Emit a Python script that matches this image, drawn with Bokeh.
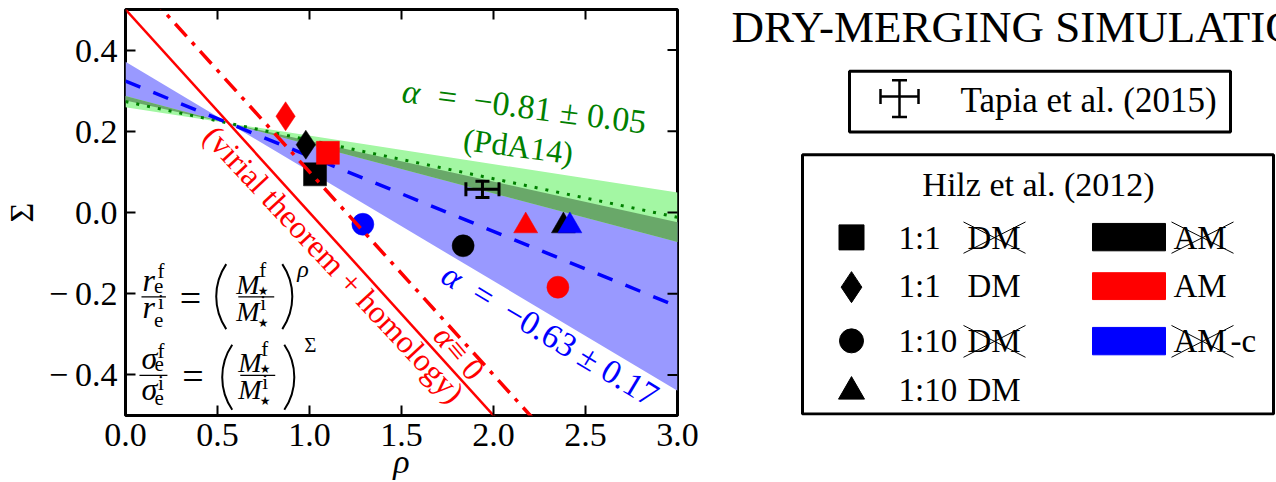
from math import pi, cos, sin, radians, asin

from bokeh.core.properties import value
from bokeh.embed import file_html
from bokeh.layouts import row
from bokeh.models import ColumnDataSource, FixedTicker
from bokeh.plotting import figure
from bokeh.resources import INLINE

SERIF = "Liberation Serif"
MID = 0.34   # distance, in em, from the alphabetic baseline up to the centre of the text box

# Hilz et al. (2012) dry-merger runs
RUN_RATIO = ["1:1", "1:1", "1:1", "1:1", "1:10", "1:10", "1:10", "1:10", "1:10", "1:10"]
RUN_DM = [False, False, True, True, False, False, False, True, True, True]
RUN_AM = ["none", "AM", "none", "AM", "none", "AM", "AM-c", "none", "AM", "AM-c"]
RUN_RHO = [1.03, 1.10, 0.98, 0.87, 1.835, 2.35, 1.29, 2.38, 2.175, 2.415]
RUN_SIGMA = [0.094, 0.147, 0.167, 0.237, -0.082, -0.184, -0.029, -0.033, -0.033, -0.033]

# Tapia et al. (2015)
TAPIA_RHO = 1.94
TAPIA_RHO_ERR = 0.09
TAPIA_SIGMA = 0.057
TAPIA_SIGMA_ERR = 0.02

# alpha fits (all pass through the common pivot)
ALPHA_PDA14 = -0.81
ALPHA_PDA14_ERR = 0.05
ALPHA_FIT = -0.63
ALPHA_FIT_ERR = 0.17
RHO_PIVOT = 0.56

# virial-theorem lines: Sigma = intercept + slope * rho
VIRIAL_SLOPE = -0.5
VIRIAL_INTERCEPT = 0.5
ALPHA_ZERO_INTERCEPT = 0.6

X_TICKS = [0.0, 0.5, 1.0, 1.5, 2.0, 2.5, 3.0]
X_TICK_LABELS = ["0.0", "0.5", "1.0", "1.5", "2.0", "2.5", "3.0"]
Y_TICKS = [-0.4, -0.2, 0.0, 0.2, 0.4]
Y_TICK_LABELS = ["\u2212\u20090.4", "\u2212\u20090.2", "0.0", "0.2", "0.4"]

MARKER = {("1:1", False): "square", ("1:1", True): "diamond",
          ("1:10", False): "circle", ("1:10", True): "triangle"}
MARKER_SIZE = {"square": 23, "diamond": 29, "circle": 22, "triangle": 24}
AM_COLOR = {"none": "black", "AM": "red", "AM-c": "blue"}


def sigma_fit(rho, alpha):
    return (1.0 - rho) / 2.0 + alpha * (RHO_PIVOT - rho) / 2.0


# ---------------------------------------------------------------- main panel
W_MAIN, H = 700, 482
FL, FR, FT, FB = 124, 677, 9, 417
X0, X1, Y0, Y1 = 0.0, 3.0, -0.5, 0.5

p = figure(width=W_MAIN, height=H, x_range=(X0, X1), y_range=(Y0, Y1),
           output_backend="svg", toolbar_location=None,
           min_border_left=FL, min_border_right=W_MAIN - FR,
           min_border_top=FT, min_border_bottom=H - FB)
p.grid.visible = False
p.outline_line_color = "black"
p.outline_line_width = 3
p.background_fill_color = "white"
p.border_fill_color = "white"

SX = (FR - FL) / (X1 - X0)   # pixels per unit of rho
SY = (FB - FT) / (Y1 - Y0)   # pixels per unit of Sigma


def px(xp):
    return X0 + (xp - FL) / SX


def py(yp):
    return Y1 - (yp - FT) / SY


for ax, ticks, labels in ((p.xaxis[0], X_TICKS, X_TICK_LABELS), (p.yaxis[0], Y_TICKS, Y_TICK_LABELS)):
    ax.ticker = FixedTicker(ticks=ticks)
    ax.major_label_overrides = dict(zip(ticks, labels))
    ax.axis_line_color = None
    ax.major_tick_in = 10
    ax.major_tick_out = 0
    ax.major_tick_line_width = 2
    ax.minor_tick_line_color = None
    ax.major_label_text_font = SERIF
    ax.major_label_text_font_size = "34px"
    ax.major_label_text_color = "black"
    ax.major_label_standoff = 8
    ax.axis_label_text_font = SERIF
    ax.axis_label_text_font_size = "34px"
    ax.axis_label_text_color = "black"

p.xaxis.axis_label = "\u03c1"
p.xaxis.axis_label_text_font_style = "italic"
p.xaxis.axis_label_standoff = -6
p.yaxis.axis_label = "\u03a3"
p.yaxis.axis_label_text_font_style = "normal"
p.yaxis.axis_label_standoff = 6

# uncertainty bands of the two alpha fits
rho_band = [X0, RHO_PIVOT, X1]
blue_lo = ALPHA_FIT - ALPHA_FIT_ERR
blue_hi = ALPHA_FIT + ALPHA_FIT_ERR
green_lo = ALPHA_PDA14 - ALPHA_PDA14_ERR
green_hi = ALPHA_PDA14 + ALPHA_PDA14_ERR
p.varea(x=rho_band, y1=[sigma_fit(r, blue_lo) for r in rho_band],
        y2=[sigma_fit(r, blue_hi) for r in rho_band], fill_color="#9999ff")
p.varea(x=rho_band, y1=[sigma_fit(r, green_lo) for r in rho_band],
        y2=[sigma_fit(r, green_hi) for r in rho_band], fill_color="#a3f7a3")
p.varea(x=rho_band, y1=[sigma_fit(r, max(blue_lo, green_lo)) for r in rho_band],
        y2=[sigma_fit(r, min(blue_hi, green_hi)) for r in rho_band], fill_color="#69a869")

rho_line = [X0, X1]
p.line(rho_line, [sigma_fit(r, ALPHA_PDA14) for r in rho_line],
       line_color="green", line_width=3, line_dash="3 8")
p.line(rho_line, [sigma_fit(r, ALPHA_FIT) for r in rho_line],
       line_color="blue", line_width=3.5, line_dash="16 14")
p.line(rho_line, [VIRIAL_INTERCEPT + VIRIAL_SLOPE * r for r in rho_line],
       line_color="red", line_width=2.5)

runs = ColumnDataSource(dict(
    rho=RUN_RHO, sigma=RUN_SIGMA,
    marker=[MARKER[(r, d)] for r, d in zip(RUN_RATIO, RUN_DM)],
    size=[MARKER_SIZE[MARKER[(r, d)]] for r, d in zip(RUN_RATIO, RUN_DM)],
    color=[AM_COLOR[a] for a in RUN_AM],
))
p.scatter(x="rho", y="sigma", marker="marker", size="size", source=runs,
          fill_color="color", line_color="color", line_width=0.5)

p.line(rho_line, [ALPHA_ZERO_INTERCEPT + VIRIAL_SLOPE * r for r in rho_line],
       line_color="red", line_width=3.5, line_dash="17 8 4 8")

# Tapia et al. error bar
p.segment(x0=[TAPIA_RHO - TAPIA_RHO_ERR, TAPIA_RHO], y0=[TAPIA_SIGMA, TAPIA_SIGMA - TAPIA_SIGMA_ERR],
          x1=[TAPIA_RHO + TAPIA_RHO_ERR, TAPIA_RHO], y1=[TAPIA_SIGMA, TAPIA_SIGMA + TAPIA_SIGMA_ERR],
          line_color="black", line_width=3)
p.scatter(x=[TAPIA_RHO - TAPIA_RHO_ERR, TAPIA_RHO + TAPIA_RHO_ERR], y=[TAPIA_SIGMA, TAPIA_SIGMA],
          marker="dash", angle=pi / 2, size=14, line_color="black", line_width=3)
p.scatter(x=[TAPIA_RHO, TAPIA_RHO], y=[TAPIA_SIGMA - TAPIA_SIGMA_ERR, TAPIA_SIGMA + TAPIA_SIGMA_ERR],
          marker="dash", size=14, line_color="black", line_width=3)

# inward ticks on the top and right edges (the outer half is clipped by the frame)
p.scatter(x=X_TICKS, y=[Y1] * len(X_TICKS), marker="dash", angle=pi / 2, size=20,
          line_color="black", line_width=2)
p.scatter(x=[X1] * len(Y_TICKS), y=Y_TICKS, marker="dash", size=20,
          line_color="black", line_width=2)


def note(x, y, text, color, angle_deg, size="32px"):
    p.text(x=[x], y=[y], text=[text], angle=angle_deg * pi / 180,
           text_font=value(SERIF), text_font_size=value(size),
           text_color=color, text_align="center", text_baseline="middle")


def note_run(xp, yp, angle_deg, pieces, color, size):
    """Write pieces of text one after another along a rotated baseline starting at (xp, yp)."""
    a = radians(angle_deg)
    ux, uy = sin(a), -cos(a)          # screen direction of "up" for the rotated text
    d = 0.0
    for text, style, advance_em in pieces:
        sx = xp + d * cos(a) + MID * size * ux
        sy = yp + d * sin(a) + MID * size * uy
        p.text(x=[px(sx)], y=[py(sy)], text=[text], angle=-a,
               text_font=value(SERIF), text_font_size=value(f"{size}px"), text_font_style=style,
               text_color=color, text_align="left", text_baseline="middle")
        d += advance_em * size


note_run(400, 102, 7.4, [("\u03b1", "italic", 0.55),
                         ("\u2002=\u2002\u22120.81 \u00b1 0.05", "normal", 0)], "green", 34)
note(2.135, 0.1635, "(PdA14)", "green", -7.4)
note_run(438, 282, 31, [("\u03b1", "italic", 0.55),
                        ("\u2002=\u2002\u22120.63 \u00b1 0.17", "normal", 0)], "blue", 34)
note(1.134, -0.127, "(virial theorem + homology)", "red", -47)
note_run(431, 338, 50, [("\u03b1", "italic", 0.55), (" \u2261 0", "normal", 0)], "red", 32)

# scaling relations written in the lower-left corner
formula = [
    # text, x, baseline y (pixels), size, style
    ("r", 141, 292, 32, "italic"), ("f", 156, 279, 21, "normal"), ("e", 152.5, 294, 21, "normal"),
    ("r", 141, 318.5, 32, "italic"), ("i", 156.5, 310, 21, "normal"), ("e", 152.5, 328.5, 21, "normal"),
    ("M", 235, 294.5, 28, "italic"), ("f", 258, 278, 21, "normal"),
    ("M", 235, 322, 28, "italic"), ("i", 259, 311, 21, "normal"),
    ("\u03c1", 296, 278, 24, "italic"),
    ("\u03c3", 140, 370, 32, "italic"), ("f", 156, 359.5, 21, "normal"), ("e", 153, 372, 21, "normal"),
    ("\u03c3", 140, 401.5, 32, "italic"), ("i", 156.5, 391, 21, "normal"), ("e", 153, 407, 21, "normal"),
    ("M", 237, 373.5, 28, "italic"), ("f", 260, 357, 21, "normal"),
    ("M", 237, 400.5, 28, "italic"), ("i", 261, 390, 21, "normal"),
    ("\u03a3", 303, 353, 21, "normal"),
]
for t, xp, yp, fs, st in formula:
    p.text(x=[px(xp)], y=[py(yp - MID * fs)], text=[t], text_font=value(SERIF),
           text_font_size=value(f"{fs}px"), text_font_style=st, text_color="black",
           text_align="left", text_baseline="middle")

stars = [(262, 291.5), (262, 324.5), (264, 370.5), (264, 402.5)]
p.text(x=[px(a) for a, b in stars], y=[py(b) for a, b in stars], text=["\u2605"] * 4,
       text_font=value("DejaVu Sans"), text_font_size=value("12px"), text_color="black",
       text_align="center", text_baseline="middle")

equals = [(189, 299), (191.5, 377.5)]
p.text(x=[px(a) for a, b in equals], y=[py(b) for a, b in equals], text=["="] * 2,
       text_font=value(SERIF), text_font_size=value("38px"), text_color="black",
       text_align="center", text_baseline="middle")

# large parentheses as circular arcs: (left edge, right edge, centre y, half height)
parens = [(215, 291, 297.5, 32.5), (221, 293, 378.5, 32.5)]
SAG = 10.0
for left, right, cy, hh in parens:
    r = (hh * hh + SAG * SAG) / (2 * SAG)
    th = asin(hh / r)
    p.arc(x=[px(left + r)], y=[py(cy)], radius=r, radius_units="screen",
          start_angle=pi - th, end_angle=pi + th, line_color="black", line_width=2)
    p.arc(x=[px(right - r)], y=[py(cy)], radius=r, radius_units="screen",
          start_angle=-th, end_angle=th, line_color="black", line_width=2)

bars = [(140, 164.5, 297.7), (237, 273, 297.7), (138, 166, 376.7), (239, 274, 376.7)]
p.segment(x0=[px(a) for a, b, c in bars], x1=[px(b) for a, b, c in bars],
          y0=[py(c) for a, b, c in bars], y1=[py(c) for a, b, c in bars],
          line_color="black", line_width=1.3)

# ---------------------------------------------------------------- side panel
# the row aligns this panel's frame with the main frame, so pixel rows FT..FB map 1:1
W_SIDE = 576
q = figure(width=W_SIDE, height=H, x_range=(W_MAIN, W_MAIN + W_SIDE), y_range=(FB, FT),
           output_backend="svg", toolbar_location=None, min_border=0,
           x_axis_location=None, y_axis_location=None)
q.grid.visible = False
q.outline_line_color = None


def qtext(x, baseline, text, size, align="left"):
    q.text(x=[x], y=[baseline - MID * size], text=[text], text_font=value(SERIF),
           text_font_size=value(f"{size}px"), text_color="black",
           text_align=align, text_baseline="middle")


qtext(731, 42, "DRY-MERGING SIMULATIONS", 45)

# Tapia legend
q.quad(left=[849], right=[1230], top=[71], bottom=[132], fill_color="white",
       line_color="black", line_width=3)
q.segment(x0=[880, 899], y0=[96.5, 80], x1=[918, 899], y1=[96.5, 117], line_color="black", line_width=2.5)
q.scatter(x=[880, 918], y=[96.5, 96.5], marker="dash", angle=pi / 2, size=15, line_color="black", line_width=2.5)
q.scatter(x=[899, 899], y=[80, 117], marker="dash", size=15, line_color="black", line_width=2.5)
qtext(960, 112, "Tapia et al. (2015)", 35)

# Hilz legend
q.quad(left=[802], right=[1273], top=[155], bottom=[415.5], fill_color="white",
       line_color="black", line_width=3)
qtext(1038, 196.5, "Hilz et al. (2012)", 34, align="center")

leg_rows = [("1:1", False), ("1:1", True), ("1:10", False), ("1:10", True)]
leg_y = [250, 298.5, 353, 403]
leg_marker = [MARKER[k] for k in leg_rows]
q.scatter(x=[851] * 4, y=[238, 288, 342, 393], marker=leg_marker,
          size=[MARKER_SIZE[m] + 2 for m in leg_marker], color="black")
for (ratio, dm), yb in zip(leg_rows, leg_y):
    qtext(898, yb, ratio, 33)
    qtext(967, yb, "DM", 33)

am_labels = ["AM", "AM", "AM"]
am_colors = [AM_COLOR[k] for k in ["none", "AM", "AM-c"]]
patch_y = [(224, 251.5), (273.5, 300.5), (328.5, 356)]
q.quad(left=[1092] * 3, right=[1165] * 3, top=[a for a, b in patch_y],
       bottom=[b for a, b in patch_y], fill_color=am_colors, line_color=am_colors)
for lab, yb in zip(am_labels, leg_y[:3]):
    qtext(1173, yb, lab, 33)
qtext(1230, leg_y[2], "-c", 33)

# struck-through labels (no DM / no AM)
crosses = [(963, 1025, 222.5, 254), (963, 1025, 326.5, 358.5),
           (1171, 1233, 222.5, 254), (1171, 1233, 326.5, 358.5)]
q.segment(x0=[a for a, b, c, d in crosses] * 2, x1=[b for a, b, c, d in crosses] * 2,
          y0=[c for a, b, c, d in crosses] + [d for a, b, c, d in crosses],
          y1=[d for a, b, c, d in crosses] + [c for a, b, c, d in crosses],
          line_color="black", line_width=1)

layout = row(p, q)
with open("out.html", "w") as f:
    f.write(file_html(layout, INLINE, "Dry-merging simulations"))
